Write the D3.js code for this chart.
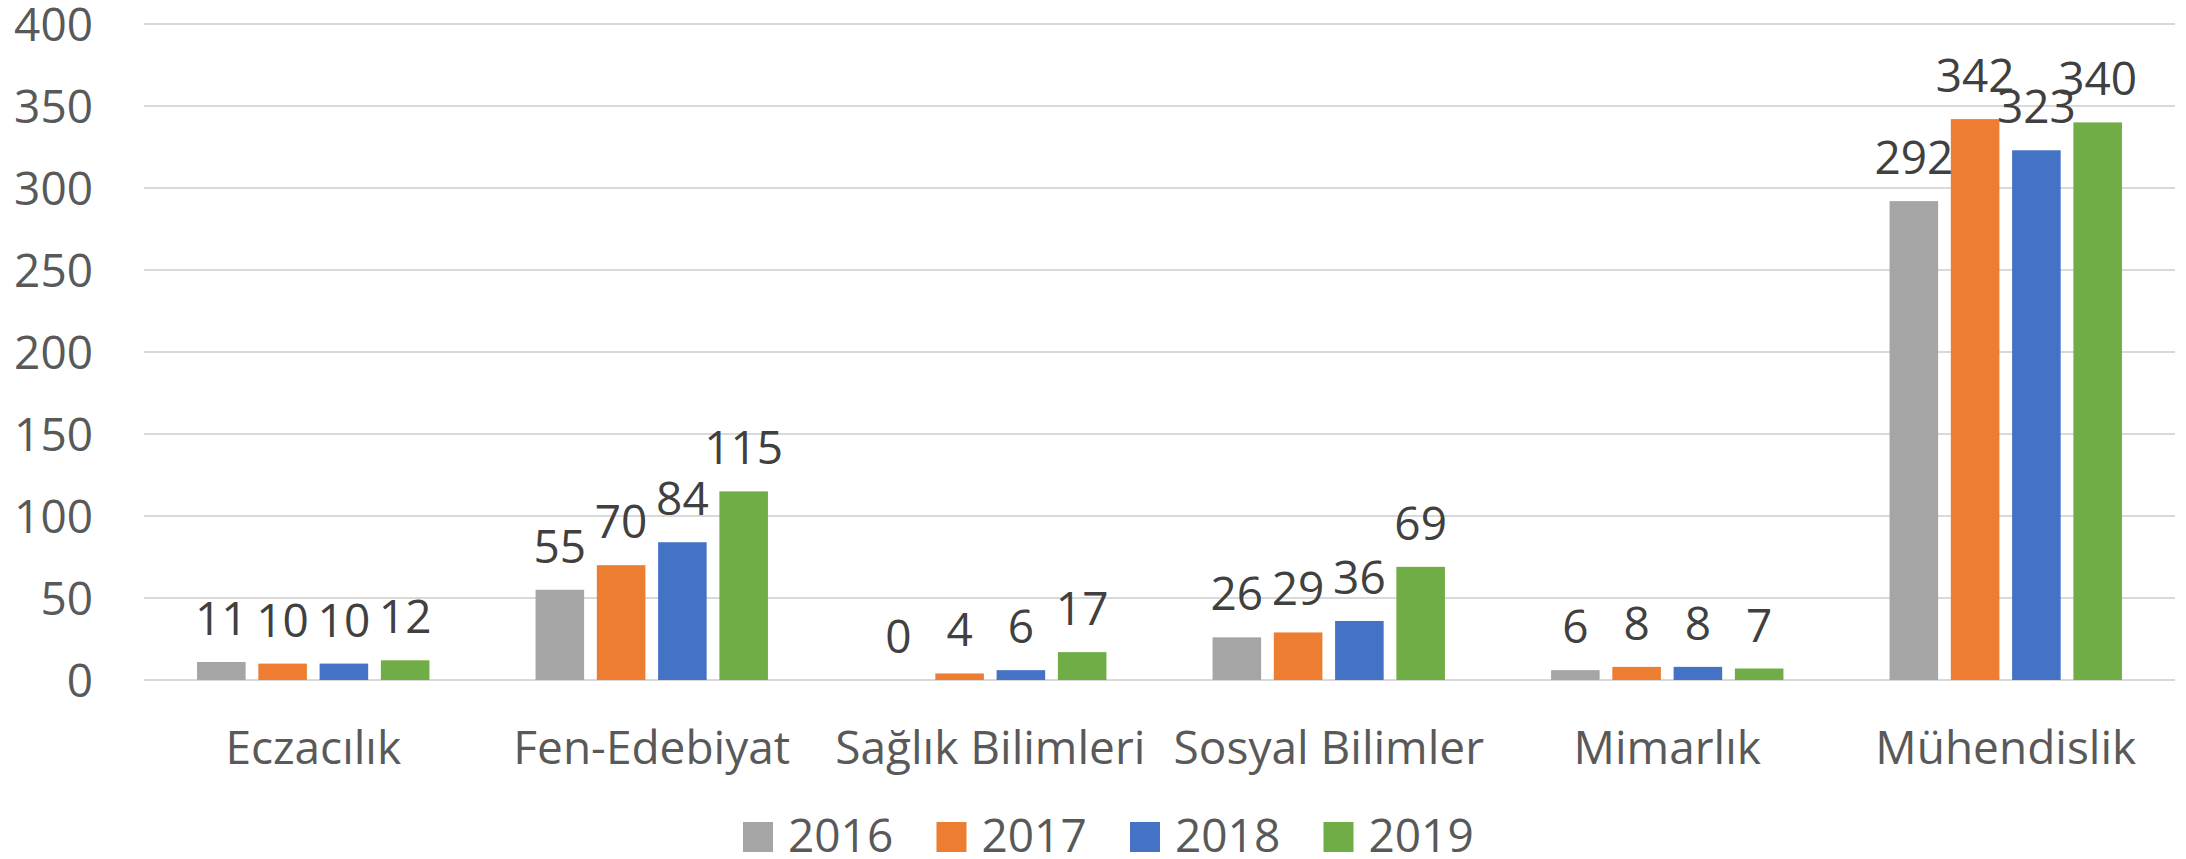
<!DOCTYPE html>
<html>
<head>
<meta charset="utf-8">
<script src="https://cdn.jsdelivr.net/npm/d3@7/dist/d3.min.js"></script>
<style>
  html, body { margin: 0; padding: 0; background: #ffffff; }
  svg { display: block; }
  text { font-family: "Open Sans", "Noto Sans", sans-serif; }
</style>
</head>
<body>
<script>
const categories = ["Eczacılık", "Fen-Edebiyat", "Sağlık Bilimleri", "Sosyal Bilimler", "Mimarlık", "Mühendislik"];
const seriesNames = ["2016", "2017", "2018", "2019"];
const values2016 = [11, 55, 0, 26, 6, 292];
const values2017 = [10, 70, 4, 29, 8, 342];
const values2018 = [10, 84, 6, 36, 8, 323];
const values2019 = [12, 115, 17, 69, 7, 340];
const yTicks = [0, 50, 100, 150, 200, 250, 300, 350, 400];
const colors = ["#A5A5A5", "#ED7D31", "#4472C4", "#70AD47"];

const seriesValues = [values2016, values2017, values2018, values2019];

const W = 2186, H = 859;
const plot = { left: 144, right: 2175, top: 24, bottom: 680 };

const svg = d3.select("body").append("svg").attr("width", W).attr("height", H);
svg.append("rect").attr("width", W).attr("height", H).attr("fill", "#fff");

const x0 = d3.scaleBand().domain(categories).range([plot.left, plot.right]).paddingInner(0).paddingOuter(0);
const x1 = d3.scaleBand().domain(seriesNames).range([0, x0.bandwidth()]).paddingInner(0.2075).paddingOuter(0.866);
const y = d3.scaleLinear().domain([0, 400]).range([plot.bottom, plot.top]);

// gridlines
svg.append("g").selectAll("line").data(yTicks).join("line")
  .attr("x1", plot.left).attr("x2", plot.right)
  .attr("y1", d => y(d)).attr("y2", d => y(d))
  .attr("stroke", "#D9D9D9").attr("stroke-width", 2);

// y axis labels
const yAxis = d3.axisLeft(y).tickValues(yTicks).tickSize(0).tickPadding(0);
const yg = svg.append("g").attr("transform", `translate(93,0)`).call(yAxis);
yg.select(".domain").remove();
yg.selectAll("text").attr("font-size", 46).attr("fill", "#595959")
  .attr("font-family", '"Open Sans", sans-serif').attr("dy", "0.36em");

// x axis labels
const xAxis = d3.axisBottom(x0).tickSize(0).tickPadding(0);
const xg = svg.append("g").attr("transform", `translate(0,764)`).call(xAxis);
xg.select(".domain").remove();
xg.selectAll("text").attr("font-size", 46).attr("fill", "#595959")
  .attr("font-family", '"Open Sans", sans-serif').attr("dy", "0").attr("y", 0);

// bars
const groups = svg.append("g").selectAll("g").data(categories).join("g")
  .attr("transform", d => `translate(${x0(d)},0)`);

groups.each(function(cat, ci) {
  const g = d3.select(this);
  seriesNames.forEach((s, si) => {
    const v = seriesValues[si][ci];
    g.append("rect")
      .attr("x", x1(s)).attr("width", x1.bandwidth())
      .attr("y", y(v)).attr("height", y(0) - y(v))
      .attr("fill", colors[si]);
  });
  seriesNames.forEach((s, si) => {
    const v = seriesValues[si][ci];
    g.append("text")
      .attr("x", x1(s) + x1.bandwidth() / 2)
      .attr("y", y(v) - 27)
      .attr("text-anchor", "middle")
      .attr("font-size", 46).attr("fill", "#404040")
      .text(v);
  });
});

// legend
const legendX = 743, legendStep = 193.5;
const lg = svg.append("g").selectAll("g").data(seriesNames).join("g")
  .attr("transform", (d, i) => `translate(${legendX + i * legendStep},822)`);
lg.append("rect").attr("width", 30).attr("height", 30).attr("fill", (d, i) => colors[i]);
lg.append("text").attr("x", 45).attr("y", 30).attr("font-size", 46).attr("fill", "#595959").text(d => d);
</script>
</body>
</html>
